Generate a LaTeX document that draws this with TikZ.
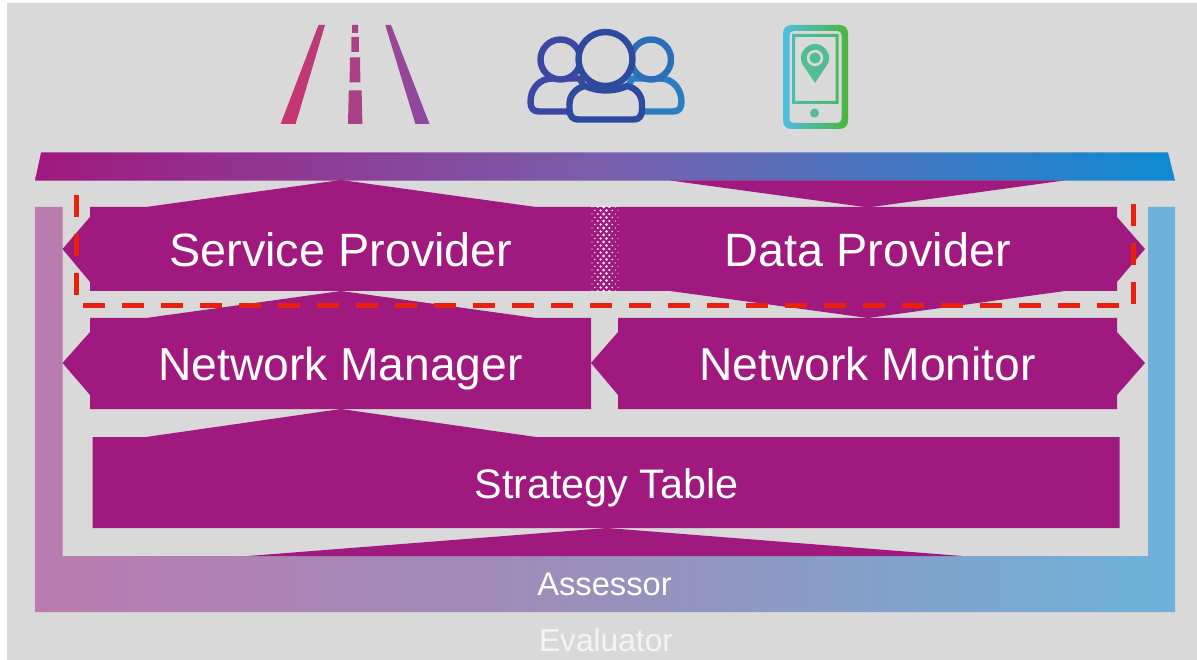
\documentclass[tikz,border=0pt]{standalone}
\usepackage{fontspec}
\setmainfont{Liberation Sans}
\definecolor{bgray}{HTML}{D9D9D9}
\definecolor{plum}{HTML}{A0197F}
\definecolor{redd}{HTML}{E8200F}
\definecolor{barL}{HTML}{A0197F}
\definecolor{barM}{HTML}{7A5FAC}
\definecolor{barR}{HTML}{0F8BD3}
\definecolor{asL}{HTML}{BA7BAE}
\definecolor{asM}{HTML}{9A90BC}
\definecolor{asR}{HTML}{6CB2D9}
\definecolor{icoA}{HTML}{3B47A2}
\definecolor{icoB}{HTML}{2C4A9E}
\definecolor{icoC}{HTML}{2A6FB8}
\definecolor{icoD}{HTML}{2A7DBF}
\definecolor{pinG}{HTML}{52BC95}
\definecolor{roadL}{HTML}{C9356F}
\definecolor{roadR}{HTML}{8A4BA0}
\definecolor{phoneL}{HTML}{4EBEE2}
\definecolor{phoneR}{HTML}{4CB53C}
\definecolor{screenL}{HTML}{4CBBB5}
\definecolor{screenR}{HTML}{4DB862}
\tikzset{
  x=1pt,y=-1pt,
  block/.style={fill=plum,draw=none},
  lbl/.style={text=white,anchor=base,inner sep=0pt},
  redline/.style={draw=redd,line width=5.6pt,dash pattern=on 22pt off 17pt},
  ico/.style={line width=6.4pt,fill=bgray,line join=round},
}
\begin{document}
\begin{tikzpicture}
\useasboundingbox (0,0) rectangle (1197,660);
\fill[white] (0,0) rectangle (1197,660);
\fill[bgray] (7,3) rectangle (1197,660);
% top bar
\shade[left color=barL,right color=barR,middle color=barM] (41,152.5) -- (1168,152.5) -- (1175,180.7) -- (35,180.7) -- cycle;
% assessor U
\shade[left color=asL,right color=asR,middle color=asM] (35,207) -- (62.5,207) -- (62.5,556) -- (1148,556) -- (1148,207) -- (1175,207) -- (1175,612) -- (35,612) -- cycle;
% blocks
\fill[block] (90,207) -- (146,207) -- (341,180) -- (536,207) -- (591,207) -- (591,291) -- (90,291) -- (90,282) -- (62.5,249) -- (90,217) -- cycle;
\fill[block] (618,207) -- (1117,207) -- (1117,217) -- (1145,249) -- (1117,282) -- (1117,291) -- (1065,291) -- (868,318) -- (670,291) -- (618,291) -- cycle;
\fill[block] (670,180.5) -- (1064,180.5) -- (868,207.5) -- cycle;
\fill[block] (591,207) rectangle (618,291);
\foreach \r in {0,...,24}{
  \foreach \c in {0,...,4}{
    \pgfmathsetmacro{\px}{592+5.8*\c+mod(\r,2)*2.9}
    \pgfmathsetmacro{\py}{207+3.5*\r}
    \pgfmathsetmacro{\rad}{max(0.5,1.6-abs(\px-604.5)*0.085)}
    \fill[white] (\px,\py) circle[radius=\rad];
  }
}
\fill[block] (90,318) -- (146,318) -- (341,291) -- (536,318) -- (591,318) -- (591,409) -- (90,409) -- (90,395) -- (62.5,363) -- (90,332) -- cycle;
\fill[block] (618,318) -- (1117,318) -- (1117,332) -- (1145,363) -- (1117,395) -- (1117,409) -- (618,409) -- (618,395) -- (591,363) -- (618,332) -- cycle;
\fill[block] (92.5,437) -- (146,437) -- (341,409) -- (536,437) -- (1119.5,437) -- (1119.5,528) -- (92.5,528) -- cycle;
\fill[block] (248,556) -- (607,528) -- (962,556) -- cycle;
% red dashed frame
\coordinate (ra) at (76.5,195); \coordinate (rb) at (76.5,296);
\coordinate (rc) at (83,305.5); \coordinate (rd) at (1119,305.5);
\coordinate (re) at (1133.5,204); \coordinate (rf) at (1133.5,305);
\draw[redline] (ra) -- (rb);
\draw[redline] (rc) -- (rd);
\draw[redline] (re) -- (rf);
% labels
\node[lbl,font=\fontsize{46.8}{50}\selectfont] (sp) at (341,267) {Service Provider};
\node[lbl,font=\fontsize{46.8}{50}\selectfont] (dp) at (868,267) {Data Provider};
\node[lbl,font=\fontsize{46.2}{50}\selectfont] (nm) at (340.5,381) {Network Manager};
\node[lbl,font=\fontsize{46.2}{50}\selectfont] (nmo) at (867.5,381) {Network Monitor};
\node[lbl,font=\fontsize{41.3}{44}\selectfont] (st) at (606.5,498) {Strategy Table};
\node[lbl,font=\fontsize{32.7}{36}\selectfont] (as) at (604.5,595) {Assessor};
\node[lbl,font=\fontsize{31.7}{36}\selectfont,text=white!96!black] (ev) at (606,651) {Evaluator};
% road icon
\shade[left color=roadL,right color=roadR]
  (318.5,25) -- (325,25) -- (295.6,124) -- (280.6,124) -- cycle
  (352,25) -- (358,25) -- (358,33) -- (352,33) -- cycle
  (351.3,37) -- (358.9,37) -- (358.9,52) -- (351.3,52) -- cycle
  (350,57.5) -- (360,57.5) -- (360.4,82.5) -- (349.6,82.5) -- cycle
  (348.8,90.5) -- (361.6,90.5) -- (362.4,124) -- (348,124) -- cycle
  (385.3,25) -- (391,25) -- (429.5,124) -- (415.4,124) -- cycle;
% people icon
\draw[ico,draw=icoA] (530.5,102) .. controls (530.5,88) and (540,78.5) .. (552,78.5) -- (580,78.5) -- (590,100) -- (570,111.5) -- (539,111.5) .. controls (533,111.5) and (530.5,108) .. (530.5,102) -- cycle;
\draw[ico,draw=icoD] (681.5,102) .. controls (681.5,88) and (672,78.5) .. (660,78.5) -- (632,78.5) -- (622,100) -- (642,111.5) -- (673,111.5) .. controls (679,111.5) and (681.5,108) .. (681.5,102) -- cycle;
\draw[ico,draw=icoA] (560.5,59.5) circle[radius=20];
\draw[ico,draw=icoC] (651,59.5) circle[radius=20];
\draw[ico,draw=icoB] (569.5,110) -- (569.5,104) .. controls (569.5,95) and (576,88) .. (585,86) .. controls (598,92) and (614,92) .. (627,86) .. controls (636,88) and (642,95) .. (642,104) -- (642,110) .. controls (642,116) and (639,119.5) .. (634,119.5) -- (578,119.5) .. controls (573,119.5) and (569.5,116) .. (569.5,110) -- cycle;
\draw[ico,draw=icoB] (605.5,59) circle[radius=27];
% phone icon
\shade[left color=phoneL,right color=phoneR,even odd rule]
  [rounded corners=8pt] (783,25) rectangle (848,129)
  [rounded corners=4pt] (789.5,31) rectangle (841.5,123);
\shade[left color=screenL,right color=screenR,even odd rule]
  (792,34) rectangle (838.5,104) (795,37) rectangle (835.5,101);
\fill[pinG] (815,58) circle[radius=14];
\fill[pinG] (802.2,63.5) -- (827.8,63.5) -- (815,83) -- cycle;
\fill[bgray] (815,58) circle[radius=8.2];
\fill[pinG] (815,58) circle[radius=5.6];
\fill[pinG] (814.5,113) circle[radius=4.5];
\end{tikzpicture}
\end{document}
